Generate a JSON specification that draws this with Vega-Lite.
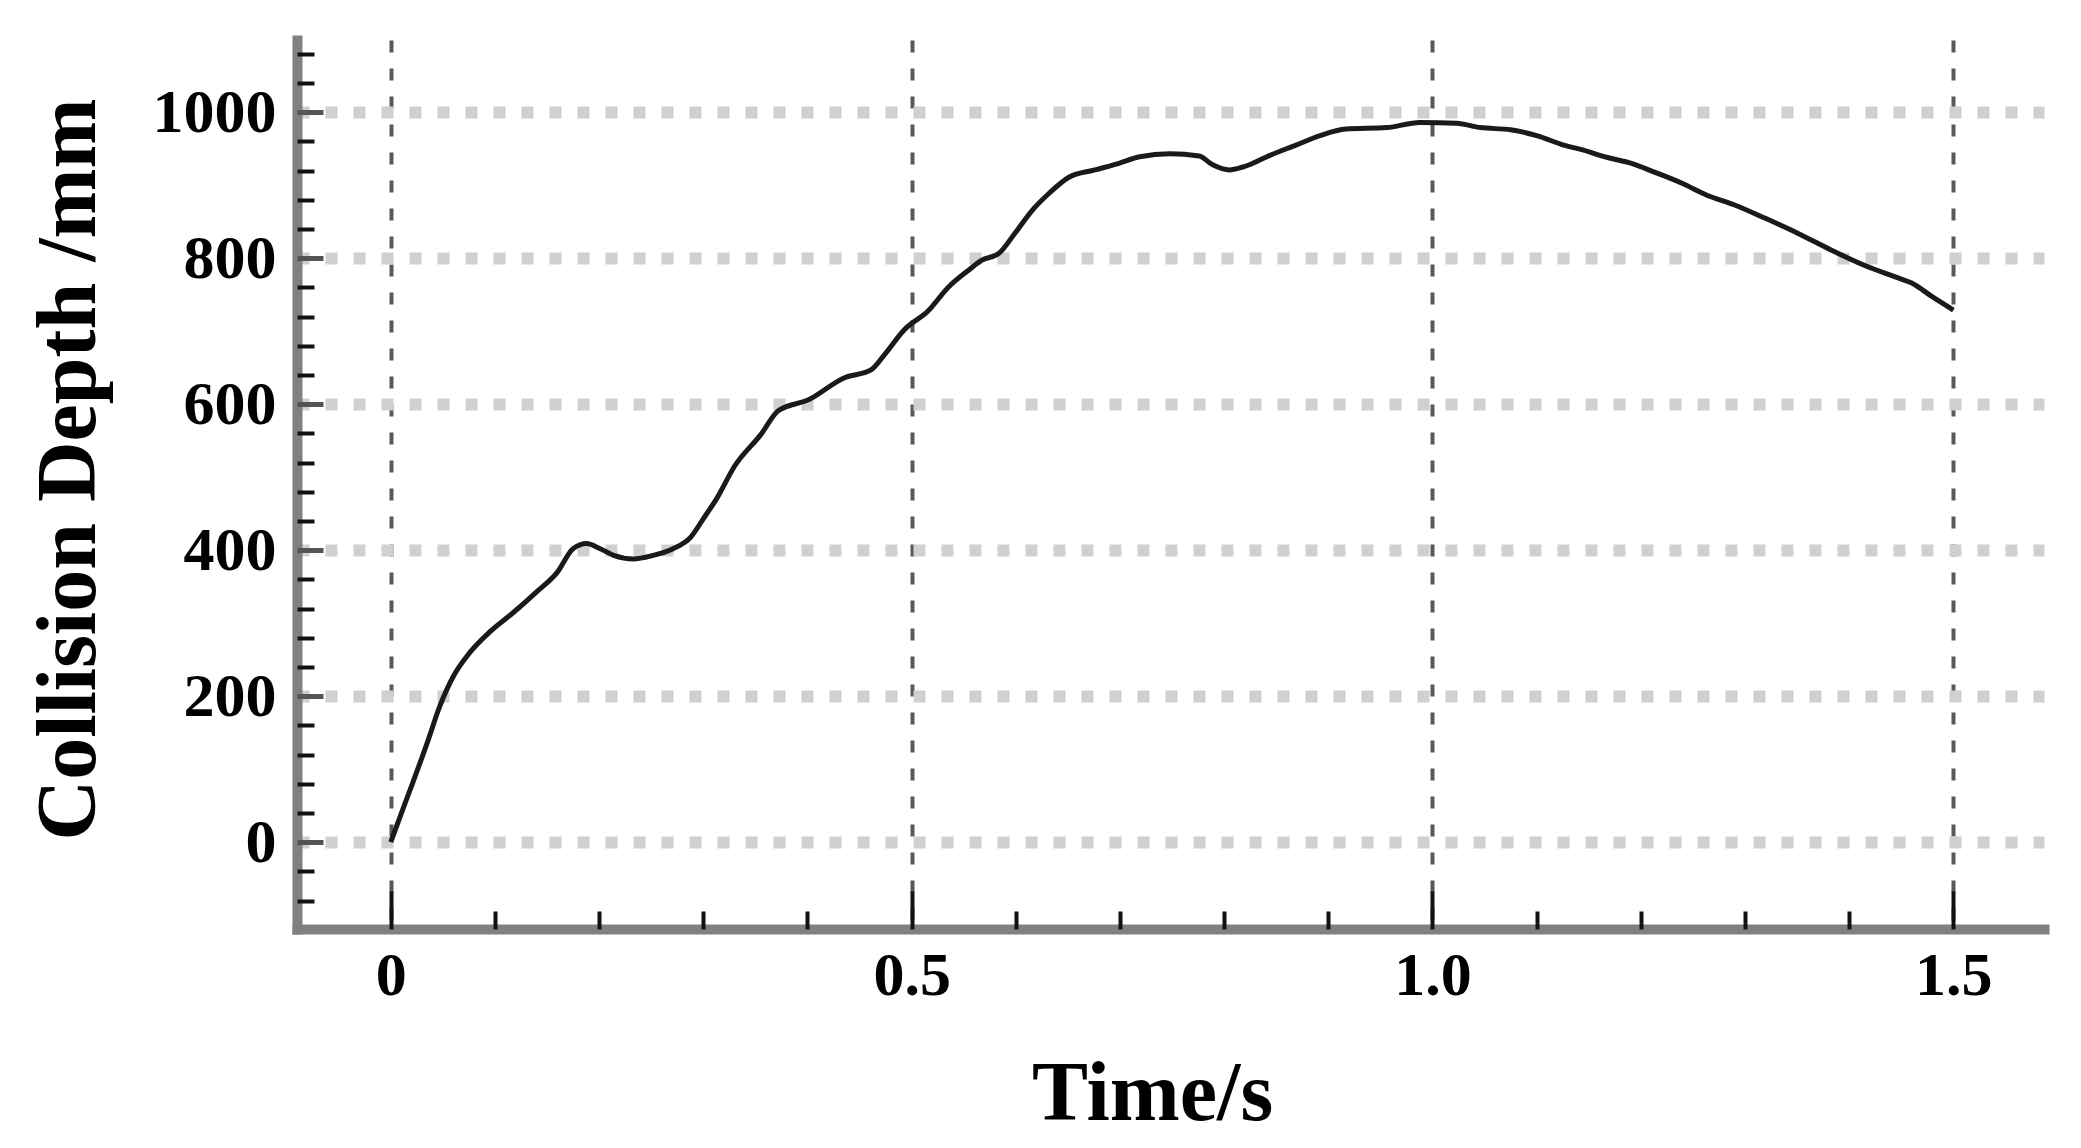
{
  "$schema": "https://vega.github.io/schema/vega-lite/v6.json",
  "width": 1747,
  "height": 889,
  "autosize": {"type": "none"},
  "padding": {"left": 297, "top": 40, "right": 37, "bottom": 219},
  "background": "white",
  "config": {"view": {"stroke": null}},
  "data": {"values": [
    {"t": 0, "depth": 0},
    {"t": 0.009, "depth": 35},
    {"t": 0.021, "depth": 81},
    {"t": 0.035, "depth": 136},
    {"t": 0.047, "depth": 186},
    {"t": 0.060, "depth": 227},
    {"t": 0.076, "depth": 260},
    {"t": 0.095, "depth": 288},
    {"t": 0.118, "depth": 315},
    {"t": 0.140, "depth": 343},
    {"t": 0.160, "depth": 370},
    {"t": 0.175, "depth": 402},
    {"t": 0.188, "depth": 409},
    {"t": 0.201, "depth": 402},
    {"t": 0.214, "depth": 393},
    {"t": 0.233, "depth": 388},
    {"t": 0.252, "depth": 393},
    {"t": 0.271, "depth": 402},
    {"t": 0.288, "depth": 418},
    {"t": 0.300, "depth": 443},
    {"t": 0.313, "depth": 471},
    {"t": 0.330, "depth": 515},
    {"t": 0.355, "depth": 558},
    {"t": 0.372, "depth": 591},
    {"t": 0.401, "depth": 606},
    {"t": 0.435, "depth": 636},
    {"t": 0.461, "depth": 647},
    {"t": 0.474, "depth": 668},
    {"t": 0.493, "depth": 702},
    {"t": 0.516, "depth": 728},
    {"t": 0.535, "depth": 760},
    {"t": 0.555, "depth": 784},
    {"t": 0.567, "depth": 797},
    {"t": 0.584, "depth": 807},
    {"t": 0.599, "depth": 834},
    {"t": 0.616, "depth": 866},
    {"t": 0.632, "depth": 889},
    {"t": 0.651, "depth": 911},
    {"t": 0.676, "depth": 921},
    {"t": 0.699, "depth": 930},
    {"t": 0.719, "depth": 939},
    {"t": 0.748, "depth": 943},
    {"t": 0.776, "depth": 940},
    {"t": 0.789, "depth": 928},
    {"t": 0.805, "depth": 921},
    {"t": 0.818, "depth": 925},
    {"t": 0.844, "depth": 941},
    {"t": 0.869, "depth": 955},
    {"t": 0.892, "depth": 968},
    {"t": 0.917, "depth": 977},
    {"t": 0.956, "depth": 979},
    {"t": 0.988, "depth": 986},
    {"t": 1.023, "depth": 985},
    {"t": 1.046, "depth": 979},
    {"t": 1.075, "depth": 976},
    {"t": 1.100, "depth": 968},
    {"t": 1.126, "depth": 955},
    {"t": 1.145, "depth": 948},
    {"t": 1.168, "depth": 938},
    {"t": 1.191, "depth": 930},
    {"t": 1.213, "depth": 918},
    {"t": 1.239, "depth": 903},
    {"t": 1.264, "depth": 886},
    {"t": 1.290, "depth": 873},
    {"t": 1.319, "depth": 855},
    {"t": 1.351, "depth": 834},
    {"t": 1.383, "depth": 811},
    {"t": 1.415, "depth": 790},
    {"t": 1.447, "depth": 773},
    {"t": 1.460, "depth": 766},
    {"t": 1.480, "depth": 747},
    {"t": 1.500, "depth": 729}
  ]},
  "resolve": {"axis": {"x": "independent", "y": "independent"}},
  "layer": [
    {
      "mark": {"type": "line", "color": "#1a1a1a", "strokeWidth": 5, "interpolate": "monotone"},
      "encoding": {
        "x": {
          "field": "t", "type": "quantitative",
          "scale": {"domain": [-0.09, 1.587], "nice": false, "zero": false},
          "axis": {
            "orient": "bottom", "values": [0, 0.5, 1, 1.5],
            "labelExpr": "datum.value == 0 ? '0' : format(datum.value, '.1f')",
            "grid": true, "gridColor": "#5a5a5a", "gridDash": [12, 16], "gridWidth": 4,
            "ticks": false,
            "domain": true, "domainColor": "#808080", "domainWidth": 10, "domainCap": "square",
            "labelFont": "Liberation Serif", "labelFontWeight": "bold", "labelFontSize": 62, "labelColor": "black",
            "labelPadding": 16, "labelFlush": false, "labelOverlap": false,
            "title": "Time/s", "titleFont": "Liberation Serif", "titleFontWeight": "bold", "titleFontSize": 84, "titleColor": "black",
            "titleX": 855, "titleY": 190, "titleAlign": "center", "titleBaseline": "alphabetic"
          }
        },
        "y": {
          "field": "depth", "type": "quantitative",
          "scale": {"domain": [-119, 1099], "nice": false, "zero": false},
          "axis": {
            "orient": "left", "values": [0, 200, 400, 600, 800, 1000], "format": "d",
            "grid": true, "gridColor": "#d0d0d0", "gridDash": [12, 16], "gridWidth": 12,
            "ticks": false,
            "domain": true, "domainColor": "#808080", "domainWidth": 10, "domainCap": "square",
            "labelFont": "Liberation Serif", "labelFontWeight": "bold", "labelFontSize": 62, "labelColor": "black",
            "labelPadding": 21, "labelFlush": false, "labelOverlap": false,
            "title": "Collision Depth /mm", "titleFont": "Liberation Serif", "titleFontWeight": "bold", "titleFontSize": 84, "titleColor": "black",
            "titleAngle": -90, "titleX": -203, "titleY": 429, "titleAlign": "center", "titleBaseline": "alphabetic"
          }
        }
      }
    },
    {
      "mark": {"type": "point", "opacity": 0},
      "encoding": {
        "x": {
          "field": "t", "type": "quantitative",
          "scale": {"domain": [-0.09, 1.587], "nice": false, "zero": false},
          "axis": {"orient": "bottom", "values": [0, 0.5, 1, 1.5], "grid": false, "domain": false, "labels": false,
                   "ticks": true, "tickSize": -38, "tickWidth": 4, "tickColor": "#111111", "title": null}
        },
        "y": {
          "field": "depth", "type": "quantitative",
          "scale": {"domain": [-119, 1099], "nice": false, "zero": false},
          "axis": {"orient": "left", "values": [0, 200, 400, 600, 800, 1000], "grid": false, "domain": false, "labels": false,
                   "ticks": true, "tickSize": -26, "tickWidth": 5, "tickColor": "#555555", "title": null}
        }
      }
    },
    {
      "mark": {"type": "point", "opacity": 0},
      "encoding": {
        "x": {
          "field": "t", "type": "quantitative",
          "scale": {"domain": [-0.09, 1.587], "nice": false, "zero": false},
          "axis": {"orient": "bottom", "values": [0.1, 0.2, 0.3, 0.4, 0.6, 0.7, 0.8, 0.9, 1.1, 1.2, 1.3, 1.4], "grid": false, "domain": false, "labels": false,
                   "ticks": true, "tickSize": -18, "tickWidth": 4, "tickColor": "#111111", "title": null}
        },
        "y": {
          "field": "depth", "type": "quantitative",
          "scale": {"domain": [-119, 1099], "nice": false, "zero": false},
          "axis": {"orient": "left", "values": [-80, -40, 40, 80, 120, 160, 240, 280, 320, 360, 440, 480, 520, 560, 640, 680, 720, 760, 840, 880, 920, 960, 1040, 1080], "grid": false, "domain": false, "labels": false,
                   "ticks": true, "tickSize": -17, "tickWidth": 4, "tickColor": "#111111", "title": null}
        }
      }
    }
  ]
}
